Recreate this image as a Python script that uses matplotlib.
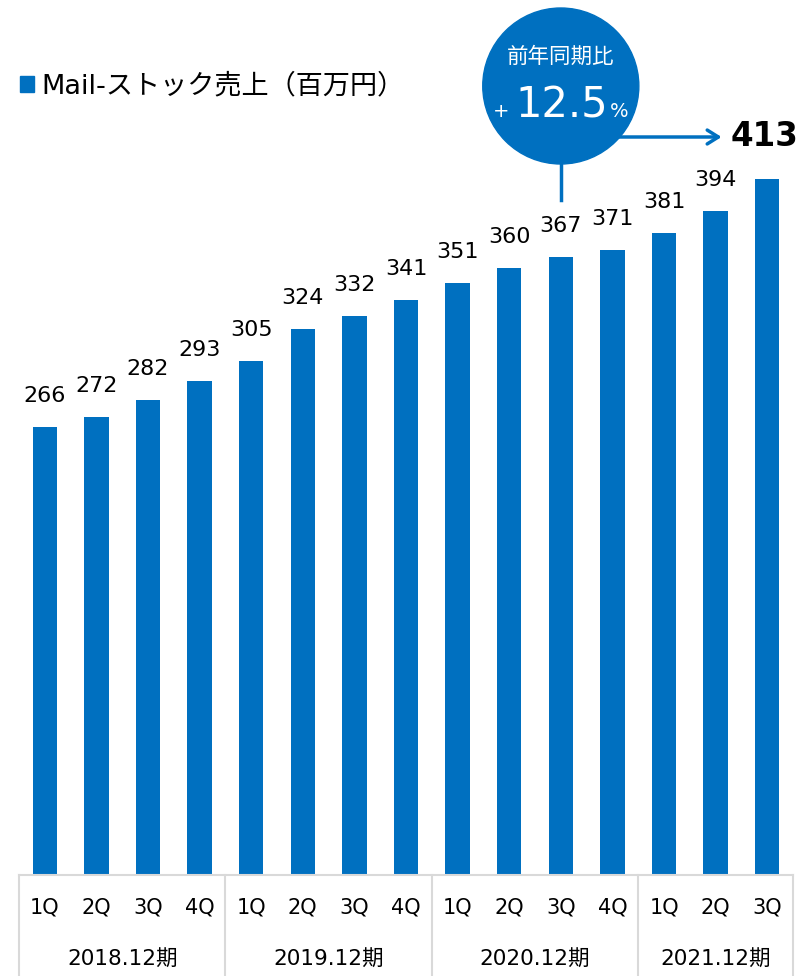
import matplotlib
matplotlib.use("Agg")
import matplotlib.pyplot as plt
import matplotlib.transforms as mtransforms
from matplotlib.patches import Ellipse, Rectangle

plt.rcParams["font.family"] = ["DejaVu Sans", "Noto Sans CJK JP"]

BLUE = "#0070C0"
GRID = "#d9d9d9"

quarters = ["1Q", "2Q", "3Q", "4Q"] * 3 + ["1Q", "2Q", "3Q"]
periods = ["2018.12期", "2019.12期", "2020.12期", "2021.12期"]
period_sizes = [4, 4, 4, 3]
sales = [266, 272, 282, 293, 305, 324, 332, 341, 351, 360, 367, 371, 381, 394, 413]
legend_label = "Mail-ストック売上（百万円）"
yoy_title = "前年同期比"
yoy_value = "12.5"

W, H = 800, 976
fig = plt.figure(figsize=(W / 100, H / 100), dpi=100)
ax_left, ax_right, ax_bottom = 19, 793, 875
ax = fig.add_axes([ax_left / W, (H - ax_bottom) / H, (ax_right - ax_left) / W, ax_bottom / H])
px = 413 / 696  # value per pixel
ax.set_xlim(-0.5, len(sales) - 0.5)
ax.set_ylim(0, ax_bottom * px)
for s in ax.spines.values():
    s.set_visible(False)
ax.set_xticks([]); ax.set_yticks([])

x = list(range(len(sales)))
ax.bar(x, sales, width=0.47, color=BLUE)

# value labels (last one is highlighted next to the arrow)
for xi, v in zip(x[:-1], sales[:-1]):
    ax.text(xi, v + 31 * px, str(v), ha="center", va="center", fontsize=16)
ax.text(x[-1] - 0.05, (ax_bottom - 137) * px, str(sales[-1]), ha="center", va="center",
        fontsize=23.5, fontweight="bold")

# category table under the axis
trans = mtransforms.blended_transform_factory(ax.transData, ax.transAxes)
below = -(H - ax_bottom) / ax_bottom
ax.plot([-0.5, len(sales) - 0.5], [0, 0], transform=trans, color=GRID, lw=1.5, clip_on=False)
for xi, q in zip(x, quarters):
    ax.text(xi, -33 / ax_bottom, q, transform=trans, ha="center", va="center", fontsize=15)
start = -0.5
for p, n in zip(periods, period_sizes):
    ax.plot([start, start], [0, below], transform=trans, color=GRID, lw=1.5, clip_on=False)
    ax.text(start + n / 2, -85 / ax_bottom, p, transform=trans, ha="center", va="center",
            fontsize=15.5)
    start += n
ax.plot([start, start], [0, below], transform=trans, color=GRID, lw=1.5, clip_on=False)

# legend
fig.patches.append(Rectangle((20 / W, 1 - 92 / H), 14 / W, 16 / H, transform=fig.transFigure,
                             color=BLUE))
fig.text(41 / W, 1 - 86 / H, legend_label, ha="left", va="center", fontsize=19.5)

# YoY bubble
cx, cy, r = 10, (ax_bottom - 86) * px, 78
ax.plot([cx, cx], [(ax_bottom - 160) * px, (ax_bottom - 200) * px], color=BLUE, lw=2.5,
        clip_on=False)
ax.add_patch(Ellipse((cx, cy), 2 * r / 51.57, 2 * r * px, color=BLUE, clip_on=False, zorder=3))
ax.text(cx, (ax_bottom - 57) * px, yoy_title, ha="center", va="center", fontsize=15.5,
        color="white", zorder=4)
base = (ax_bottom - 117) * px
ax.text(cx + 0.02, base, yoy_value, ha="center", va="baseline", fontsize=30, color="white",
        zorder=4)
ax.text(cx - 1.15, base, "+", ha="center", va="baseline", fontsize=14, color="white", zorder=4)
ax.text(cx + 1.13, base, "%", ha="center", va="baseline", fontsize=14, color="white", zorder=4)

# arrow to latest value
ay = (ax_bottom - 137) * px
ax.annotate("", xy=(13.17, ay), xytext=(11.0, ay),
            arrowprops=dict(arrowstyle="->,head_length=0.8,head_width=0.5", color=BLUE,
                            lw=2.5), annotation_clip=False)

fig.savefig("out.png", dpi=100)
